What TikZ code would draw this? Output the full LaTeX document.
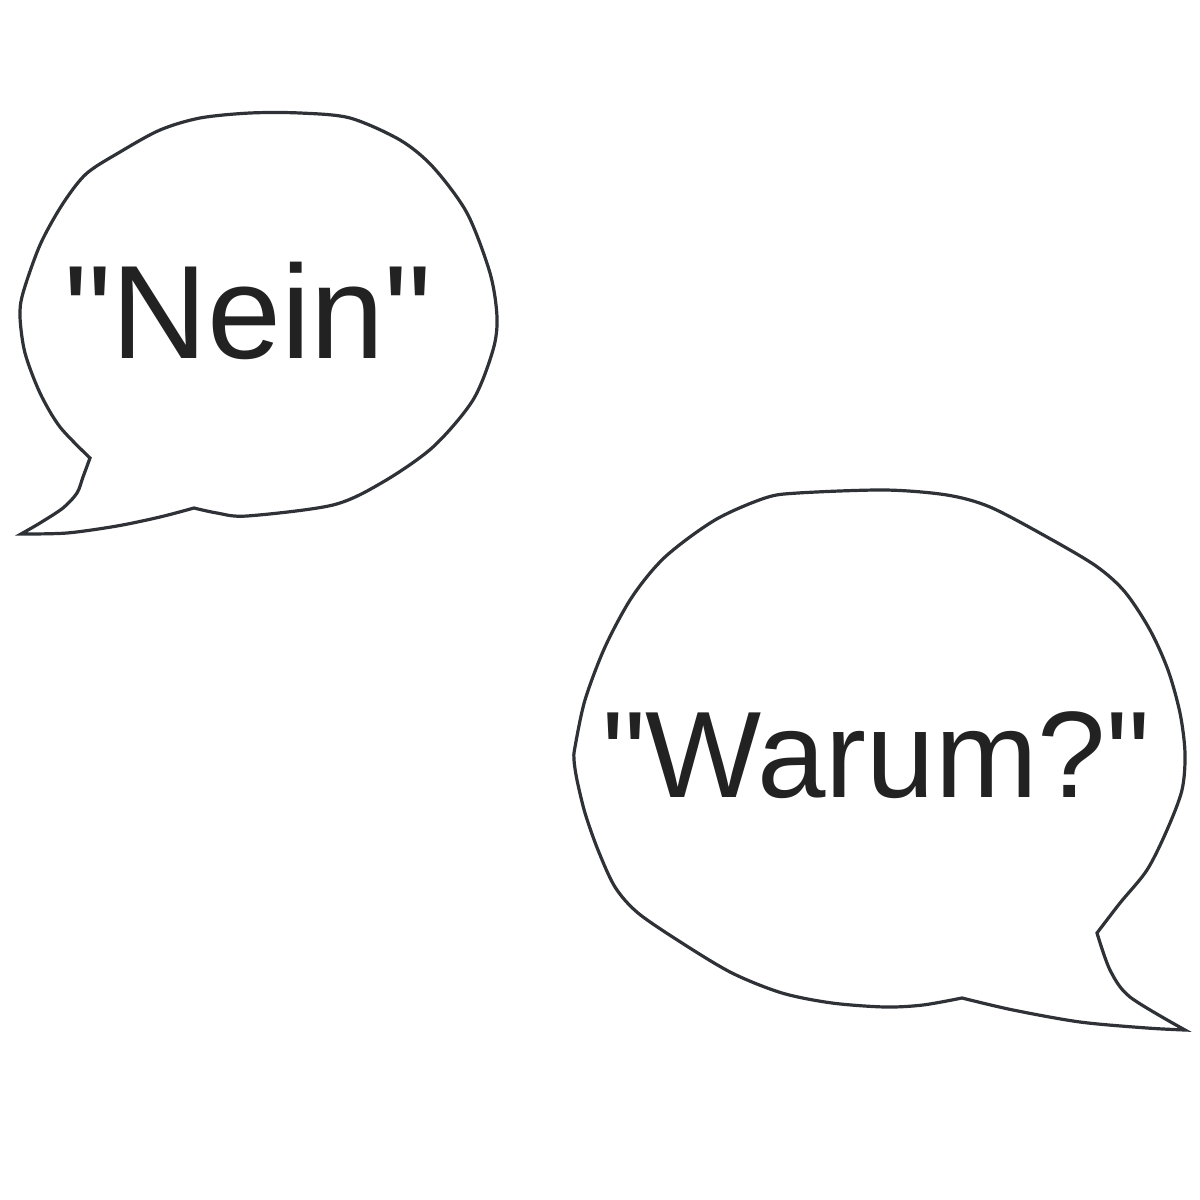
\documentclass[tikz,border=0pt]{standalone}
\usepackage{fontspec}
\newfontfamily\plainsans{Liberation Sans}
\definecolor{outline}{HTML}{2E3236}
\definecolor{ink}{HTML}{222222}
\tikzset{
  bubble/.style={draw=outline, line width=3.2pt, line join=miter, fill=white},
  speech/.style={text=ink, anchor=base, inner sep=0pt},
}
\begin{document}
\begin{tikzpicture}[x=1pt,y=-1pt]
\useasboundingbox (0,0) rectangle (1200,1200);
% bubble 1
\path[bubble]
  plot[smooth] coordinates {(21,534) (67,533) (117,526) (160,517) (194,508)}
  -- plot[smooth] coordinates {(194,508) (217,513) (247,516) (333,505) (383,482) (433,447) (473,400) (493,350) (497,317) (490,273) (467,213) (433,167) (400,140) (350,118) (300,113) (250,113) (200,118) (160,130) (120,152) (86,174) (62,205) (40,245) (23,293) (20,317) (25,353) (40,393) (60,427) (90,458)}
  -- plot[smooth] coordinates {(90,458) (83,477) (77,493) (63,508) (40,523) (21,534)}
  -- cycle;
% bubble 2
\path[bubble]
  plot[smooth] coordinates {(1185,1030) (1147,1028) (1080,1022) (1013,1010) (962,998)}
  -- plot[smooth] coordinates {(962,998) (923,1005) (885,1007) (832,1003) (782,993) (732,973) (682,943) (638,913) (615,887) (598,850) (585,813) (577,780) (574,760) (575,747) (585,700) (605,647) (632,597) (665,557) (715,520) (765,498) (798,493) (885,490) (947,495) (990,507) (1047,537) (1096,566) (1125,592) (1150,630) (1168,670) (1180,713) (1185,753) (1182,790) (1167,830) (1147,870) (1120,903) (1097,933)}
  -- plot[smooth] coordinates {(1097,933) (1110,970) (1130,997) (1185,1030)}
  -- cycle;
\node[speech, font=\plainsans\fontsize{133}{150}\selectfont] (nein) at (248,358) {"Nein"};
\node[speech, font=\plainsans\fontsize{123}{145}\selectfont] (warum) at (876,797) {"Warum?"};
\end{tikzpicture}
\end{document}
